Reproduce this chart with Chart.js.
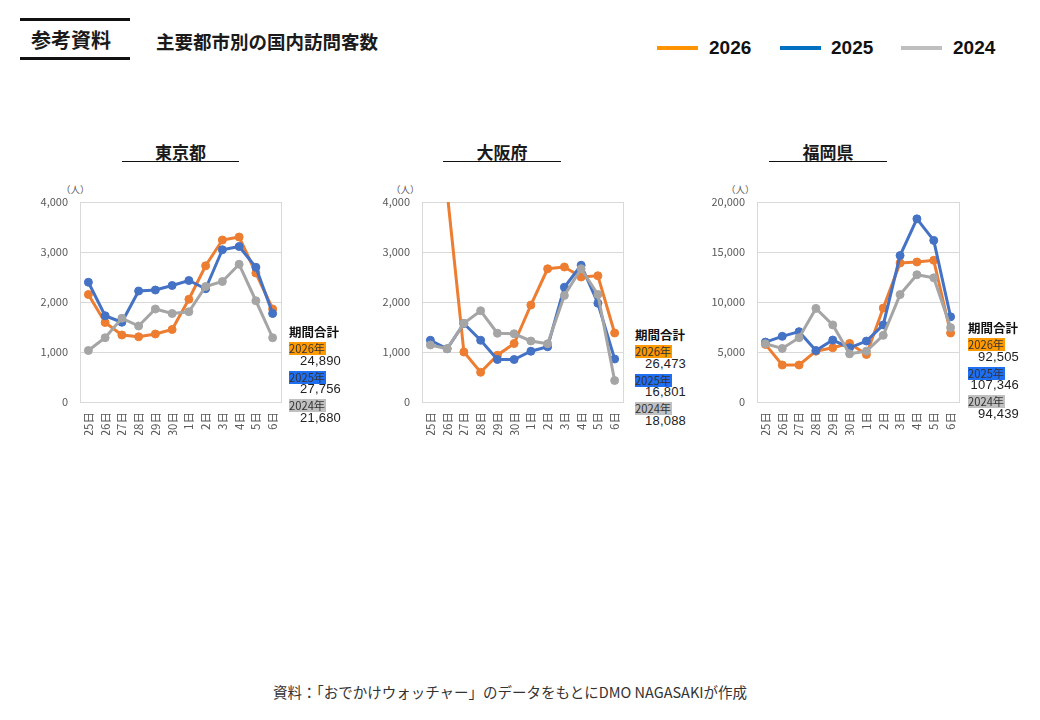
<!DOCTYPE html>
<html><head><meta charset="utf-8">
<script src="https://cdn.jsdelivr.net/npm/chart.js@4.4.1/dist/chart.umd.min.js"></script>
<style>
body{margin:0;width:1040px;height:720px;background:#fff;position:relative;font-family:"Noto Sans CJK JP","Noto Sans",sans-serif;overflow:hidden;color:#1a1a1a}
.abs{position:absolute;white-space:nowrap}
.hline{position:absolute;background:#111}
.ttl{position:absolute;font-weight:bold;font-size:17px;text-align:center;line-height:20px}
.uline{position:absolute;height:1.5px;background:#111}
.unit{position:absolute;font-size:9.5px;color:#595959;line-height:10px}
.tot{position:absolute;line-height:14.3px}
.tot div{height:14.3px}
.tot .h{font-weight:bold;font-size:12.5px;color:#111}
.tot .lb span{font-size:11.2px;color:#333;padding:0 1px 0 0;display:inline-block;line-height:13px}
.tot .num{text-align:right;font-size:13px;color:#222;font-family:"Liberation Sans","Noto Sans",sans-serif;letter-spacing:0.2px}
.lg{position:absolute;height:4px;width:41px}
.lgt{position:absolute;font-family:"Liberation Sans",Arial,sans-serif;font-weight:bold;font-size:19px;line-height:20px;color:#111}
</style></head><body>
<div class="hline" style="left:20px;top:18px;width:110px;height:3px"></div>
<div class="hline" style="left:20px;top:57px;width:110px;height:3px"></div>
<div class="abs" style="left:31px;top:28px;font-size:20px;font-weight:bold;line-height:24px">参考資料</div>
<div class="abs" style="left:156px;top:30px;font-size:18.5px;font-weight:bold;line-height:22px">主要都市別の国内訪問客数</div>

<div id="legend"></div>

<div class="ttl" style="left:122px;top:142px;width:117px">東京都</div>
<div class="uline" style="left:122px;top:160.5px;width:117px"></div>
<div class="ttl" style="left:443px;top:142px;width:118px">大阪府</div>
<div class="uline" style="left:443px;top:160.5px;width:118px"></div>
<div class="ttl" style="left:769px;top:142px;width:118px">福岡県</div>
<div class="uline" style="left:769px;top:160.5px;width:118px"></div>

<div class="unit" style="left:61px;top:184px">（人）</div>
<div class="unit" style="left:391px;top:184px">（人）</div>
<div class="unit" style="left:726px;top:184px">（人）</div>

<canvas id="c0" class="abs"></canvas>
<canvas id="c1" class="abs"></canvas>
<canvas id="c2" class="abs"></canvas>

<div id="tots"></div>

<div class="abs" style="left:-10px;width:1040px;top:682px;text-align:center;font-size:14.5px;color:#333;line-height:20px">資料：「おでかけウォッチャー」のデータをもとにDMO NAGASAKIが作成</div>

<script>
// ---- data ----
const categories = ['25日','26日','27日','28日','29日','30日','1日','2日','3日','4日','5日','6日'];
const seriesNames = ['2026','2025','2024'];
const cityNames = ['東京都','大阪府','福岡県'];

const tokyo2026 = [2150,1590,1340,1305,1360,1450,2055,2725,3240,3300,2580,1860];
const tokyo2025 = [2395,1725,1595,2220,2240,2330,2430,2265,3045,3110,2695,1770];
const tokyo2024 = [1030,1285,1675,1520,1860,1770,1805,2310,2410,2755,2025,1285];

const osaka2026 = [4860,4200,1000,595,935,1170,1940,2665,2700,2500,2525,1380];
const osaka2025 = [1235,1065,1570,1235,850,850,1015,1105,2295,2735,1975,860];
const osaka2024 = [1140,1065,1575,1825,1375,1365,1220,1165,2130,2665,2150,430];

const fukuoka2026 = [5760,3700,3700,5080,5420,5860,4750,9390,13900,14000,14170,6900];
const fukuoka2025 = [5990,6565,7035,5150,6195,5420,6095,7710,14645,18315,16160,8520];
const fukuoka2024 = [5825,5355,6430,9360,7710,4815,5085,6665,10740,12725,12420,7440];

const tokyoTotals = ['24,890','27,756','21,680'];
const osakaTotals = ['26,473','16,801','18,088'];
const fukuokaTotals = ['92,505','107,346','94,439'];

const yMax = [4000,4000,20000];
const yStep = [1000,1000,5000];

// ---- styles ----
const lineColors = ['#ED7D31','#4472C4','#A5A5A5'];
const legendColors = ['#FF9300','#0070C0','#BFBFBF'];
const labelBg = ['#FF9900','#1F6FF2','#C0C0C0'];

const cities = [
  {series:[tokyo2026,tokyo2025,tokyo2024], totals:tokyoTotals, plotL:80, plotR:281, totL:289, totTop:325, totW:52},
  {series:[osaka2026,osaka2025,osaka2024], totals:osakaTotals, plotL:422, plotR:623, totL:635, totTop:328, totW:51},
  {series:[fukuoka2026,fukuoka2025,fukuoka2024], totals:fukuokaTotals, plotL:757, plotR:959, totL:968, totTop:321, totW:51}
];

// legend
const lgPos = [[657,709],[780,831],[901,953]];
let lgHtml = '';
seriesNames.forEach((n,i)=>{
  lgHtml += `<div class="lg" style="left:${lgPos[i][0]}px;top:45.5px;background:${legendColors[i]}"></div>`;
  lgHtml += `<div class="lgt" style="left:${lgPos[i][1]}px;top:38px">${n}</div>`;
});
document.getElementById('legend').innerHTML = lgHtml;

// totals blocks
let tHtml = '';
cities.forEach(c=>{
  let s = `<div class="tot" style="left:${c.totL}px;top:${c.totTop}px;width:${c.totW}px"><div class="h">期間合計</div>`;
  seriesNames.forEach((n,i)=>{
    s += `<div class="lb"><span style="background:${labelBg[i]}">${n}年</span></div>`;
    s += `<div class="num">${c.totals[i]}</div>`;
  });
  s += '</div>';
  tHtml += s;
});
document.getElementById('tots').innerHTML = tHtml;

Chart.defaults.font.family = "'Noto Sans CJK JP','Noto Sans',sans-serif";
Chart.defaults.animation = false;

const frame = {
  id:'frame',
  beforeDatasetsDraw(chart){
    const a = chart.chartArea, ctx = chart.ctx;
    ctx.save();
    ctx.strokeStyle = '#D9D9D9';
    ctx.lineWidth = 1;
    ctx.strokeRect(Math.round(a.left)+0.5, Math.round(a.top)+0.5, Math.round(a.right-a.left), Math.round(a.bottom-a.top));
    ctx.restore();
  }
};

const AXIS_W = 60, PAD_R = 10, TOP = 185, PAD_T = 17, H = 250, XAX_H = 33;

cities.forEach((c,k)=>{
  const cv = document.getElementById('c'+k);
  const w = AXIS_W + (c.plotR - c.plotL) + PAD_R;
  cv.style.left = (c.plotL - AXIS_W) + 'px';
  cv.style.top = TOP + 'px';
  cv.style.width = w + 'px';
  cv.style.height = H + 'px';
  cv.width = w; cv.height = H;
  new Chart(cv, {
    type:'line',
    data:{
      labels: categories,
      datasets: seriesNames.map((n,i)=>({
        label:n,
        data:c.series[i],
        borderColor:lineColors[i],
        backgroundColor:lineColors[i],
        pointBackgroundColor:lineColors[i],
        pointBorderColor:lineColors[i],
        borderWidth:3,
        pointRadius:4,
        pointBorderWidth:1,
        tension:0,
        order:2-i
      }))
    },
    options:{
      responsive:false,
      maintainAspectRatio:false,
      devicePixelRatio:1,
      layout:{padding:{top:PAD_T,right:PAD_R,left:0,bottom:0}},
      plugins:{legend:{display:false},tooltip:{enabled:false}},
      scales:{
        x:{
          offset:true,
          grid:{display:false,drawTicks:false},
          border:{display:false},
          ticks:{minRotation:90,maxRotation:90,autoSkip:false,padding:10,color:'#595959',font:{size:11.5}},
          afterFit(s){ s.height = XAX_H; s.paddingLeft=0; s.paddingRight=0; s.paddingTop=0; s.paddingBottom=0; }
        },
        y:{
          min:0,max:yMax[k],
          grid:{color:'#D9D9D9',lineWidth:1,drawTicks:false},
          border:{display:false},
          ticks:{stepSize:yStep[k],padding:12,color:'#595959',font:{size:11}},
          afterFit(s){ s.width = AXIS_W; s.paddingTop=0; s.paddingBottom=0; s.paddingLeft=0; s.paddingRight=0; }
        }
      }
    },
    plugins:[frame]
  });
});
</script>
</body></html>
